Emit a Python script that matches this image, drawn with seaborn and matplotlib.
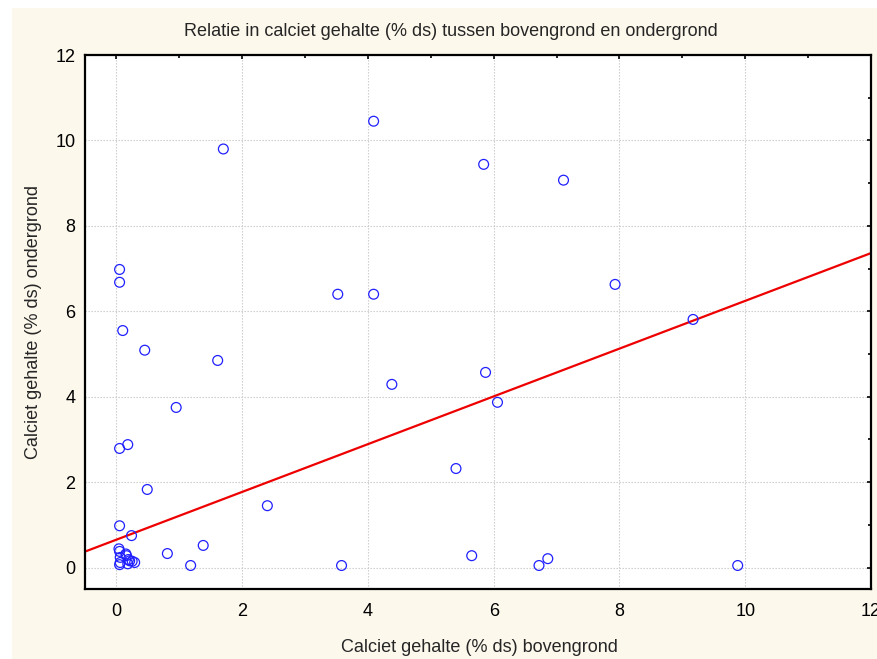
import numpy as np
import pandas as pd
import matplotlib
matplotlib.use('Agg')
import matplotlib.pyplot as plt
from matplotlib.patches import Rectangle
from matplotlib.ticker import MultipleLocator
import seaborn as sns

# --- DATA ---
bovengrond = [4.09, 1.70, 5.84, 7.11, 0.05, 0.05, 7.93, 3.52, 4.09, 9.17,
              0.10, 0.45, 1.61, 5.87, 4.38, 6.06, 0.95, 0.18, 0.05, 5.40,
              0.49, 2.40, 0.05, 0.24, 1.38, 0.81, 5.65, 6.86, 1.18, 3.58,
              6.72, 9.88,
              0.05, 0.06, 0.06, 0.05, 0.16, 0.21, 0.18, 0.29, 0.25, 0.15,
              0.19, 0.04]
ondergrond = [10.45, 9.80, 9.44, 9.07, 6.98, 6.68, 6.63, 6.40, 6.40, 5.81,
              5.55, 5.09, 4.85, 4.57, 4.29, 3.87, 3.75, 2.88, 2.79, 2.32,
              1.83, 1.45, 0.98, 0.75, 0.52, 0.33, 0.28, 0.21, 0.05, 0.05,
              0.05, 0.05,
              0.38, 0.24, 0.12, 0.07, 0.28, 0.16, 0.09, 0.12, 0.15, 0.32,
              0.19, 0.44]

# regressielijn
fit_intercept = 0.655
fit_slope = 0.559

TITEL = 'Relatie in calciet gehalte (% ds) tussen bovengrond en ondergrond'
XLABEL = 'Calciet gehalte (% ds) bovengrond'
YLABEL = 'Calciet gehalte (% ds) ondergrond'
XLIM = (-0.5, 12)
YLIM = (-0.5, 12)
FS = 13

# --- FIGUUR ---
sns.set_style('white')
plt.rcParams['font.family'] = ['Liberation Sans', 'DejaVu Sans']

df = pd.DataFrame({'boven': bovengrond, 'onder': ondergrond})
fit_x = np.array(XLIM)
df_fit = pd.DataFrame({'x': fit_x, 'y': fit_intercept + fit_slope * fit_x})

W, H = 877, 659
fig = plt.figure(figsize=(W / 100, H / 100), dpi=100, facecolor='white')
fig.patches.append(Rectangle((12 / W, 0), 1 - 12 / W, 1 - 8 / H, transform=fig.transFigure,
                             facecolor='#fdf8ec', edgecolor='none', zorder=-10))
ax = fig.add_axes([85 / W, 1 - 589 / H, 786 / W, 534 / H])
ax.set_facecolor('white')

sns.lineplot(data=df_fit, x='x', y='y', color='#ee0000', linewidth=1.6, ax=ax, zorder=2)
sns.scatterplot(data=df, x='boven', y='onder', marker='o', s=50, facecolors='none',
                edgecolor='#2020ff', linewidth=0.9, ax=ax, zorder=3)

ax.set_xlim(XLIM); ax.set_ylim(YLIM)
ax.xaxis.set_major_locator(MultipleLocator(2)); ax.xaxis.set_minor_locator(MultipleLocator(1))
ax.yaxis.set_major_locator(MultipleLocator(2)); ax.yaxis.set_minor_locator(MultipleLocator(1))
ax.grid(True, which='major', color='#c8c8c8', linestyle=(0, (1.2, 1.5)), linewidth=0.8)
ax.tick_params(which='both', direction='in', top=True, right=True, length=3, width=1.2,
               labelsize=FS, colors='black')
ax.tick_params(which='minor', length=2.5)
ax.tick_params(axis='x', pad=10)
ax.tick_params(axis='y', pad=7)
for s in ax.spines.values():
    s.set_linewidth(1.6); s.set_color('black')

ax.set_xlabel(XLABEL, fontsize=FS, va='center')
ax.set_ylabel(YLABEL, fontsize=FS, va='center')
ax.xaxis.set_label_coords((479 - 85) / 786, (589 - 647) / 534)
ax.yaxis.set_label_coords((33 - 85) / 786, 0.5)
fig.text(451 / W, 1 - 31 / H, TITEL, fontsize=FS, ha='center', va='center')

fig.savefig('out.png', dpi=100, facecolor=fig.get_facecolor())
